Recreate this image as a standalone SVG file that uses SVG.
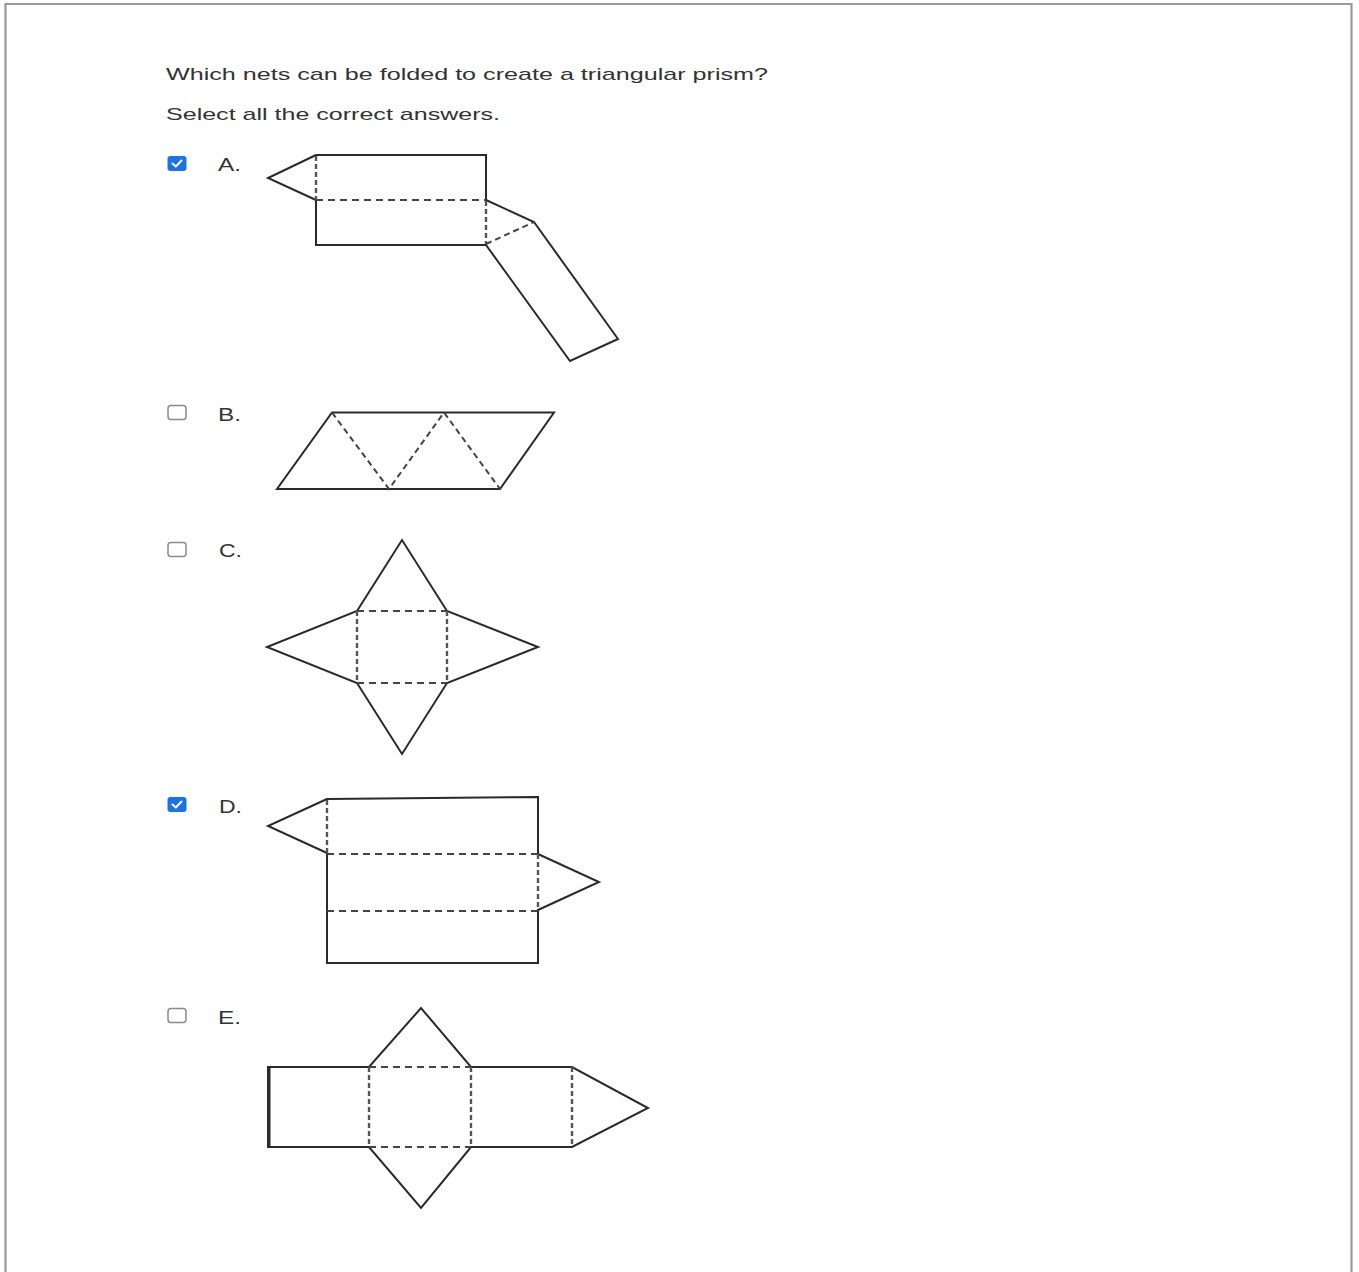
<svg xmlns="http://www.w3.org/2000/svg" width="1359" height="1272" viewBox="0 0 1359 1272">
<style>
.q{font-family:"Liberation Sans",Arial,sans-serif;font-size:17px;fill:#333}
.lbl{font-family:"Liberation Sans",Arial,sans-serif;font-size:18px;fill:#333}
.s{fill:none;stroke:#2a2a2a;stroke-width:2;stroke-linejoin:miter}
.dh{fill:none;stroke:#444;stroke-width:2;stroke-dasharray:7 5}
.dv{fill:none;stroke:#555;stroke-width:2.4;stroke-dasharray:5 3}
.dd{fill:none;stroke:#444;stroke-width:2;stroke-dasharray:6 4}
.cbon{fill:#1a73e8}
.cboff{fill:#fff;stroke:#8a8a8a;stroke-width:1.5}
.tick{fill:none;stroke:#fff;stroke-width:2;stroke-linecap:round;stroke-linejoin:round}
</style>
<rect x="0" y="0" width="1359" height="1272" fill="#fff"/>
<path d="M5.5 1272 V4 H1351.5 V1272" fill="none" stroke="#999" stroke-width="2.2"/>
<g id="question">
<text class="q" x="166" y="80" textLength="602" lengthAdjust="spacingAndGlyphs">Which nets can be folded to create a triangular prism?</text>
<text class="q" x="166" y="120" textLength="334" lengthAdjust="spacingAndGlyphs">Select all the correct answers.</text>
</g>
<g id="optionA">
<rect class="cbon" x="167.5" y="156" width="19" height="15" rx="3"/>
<path class="tick" d="M172.5 163.5 L175.8 166.5 L181.5 160.5"/>
<text class="lbl" x="218" y="171" textLength="23" lengthAdjust="spacingAndGlyphs">A.</text>
<path class="s" d="M316 155 L268 178 L316 200 M316 155 H486 V200 L534 222 L618 339 L570 361 L486 245 H316 V200"/>
<path class="dh" d="M316 200 H486"/>
<path class="dv" d="M316 156 V200 M486 201 V244"/>
<path class="dd" d="M486 244 L534 222"/>
</g>
<g id="optionB">
<rect class="cboff" x="168" y="405.5" width="18" height="14" rx="3"/>
<text class="lbl" x="218" y="421" textLength="23" lengthAdjust="spacingAndGlyphs">B.</text>
<path class="s" d="M332 412.5 H554 L500 489 H277 Z"/>
<path class="dd" d="M332 412.5 L389 489 L444 412.5 L500 489"/>
</g>
<g id="optionC">
<rect class="cboff" x="168" y="542.5" width="18" height="14" rx="3"/>
<text class="lbl" x="219" y="557" textLength="23" lengthAdjust="spacingAndGlyphs">C.</text>
<path class="s" d="M357 611 L402 540 L447 611 L538 647 L447 683 L402 754 L357 683 L267 647 Z"/>
<path class="dh" d="M357 611 H447 M357 683 H447"/>
<path class="dv" d="M357 611 V683 M447 611 V683"/>
</g>
<g id="optionD">
<rect class="cbon" x="167.5" y="797" width="19" height="15" rx="3"/>
<path class="tick" d="M172.5 804.5 L175.8 807.5 L181.5 801.5"/>
<text class="lbl" x="219" y="813" textLength="23" lengthAdjust="spacingAndGlyphs">D.</text>
<path class="s" d="M327 799 L268 826 L327 853 V963 H538 V910 L599 882 L538 854 V797 Z"/>
<path class="dh" d="M327 854 H538 M327 911 H538"/>
<path class="dv" d="M327 800 V853 M538 854 V910"/>
</g>
<g id="optionE">
<rect class="cboff" x="168" y="1008.5" width="18" height="14" rx="3"/>
<text class="lbl" x="218" y="1024" textLength="23" lengthAdjust="spacingAndGlyphs">E.</text>
<path class="s" d="M268 1067 H369 L421 1008 L471 1067 H572 L648 1108 L572 1147 H471 L421 1208 L369 1147 H268 Z"/>
<path class="s" d="M269.5 1067 V1147"/>
<path class="dh" d="M369 1067 H471 M369 1147 H471"/>
<path class="dv" d="M369 1067 V1147 M471 1067 V1147 M572 1067 V1147"/>
</g>
</svg>
